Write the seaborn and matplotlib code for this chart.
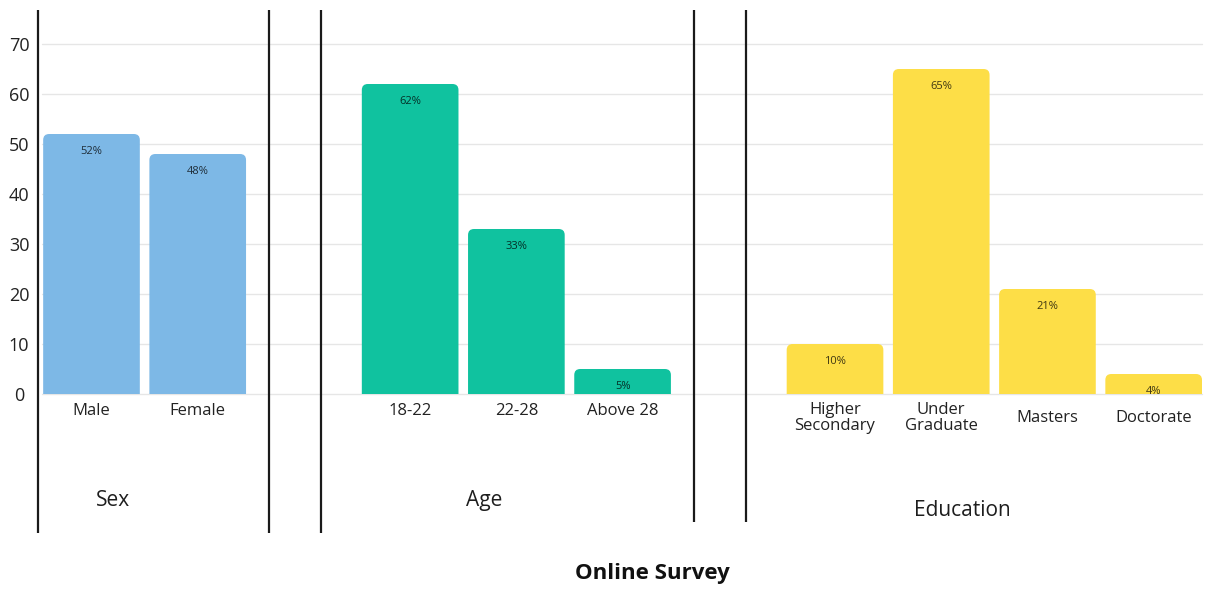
import pandas as pd
import matplotlib
matplotlib.use("Agg")
import matplotlib.pyplot as plt
import matplotlib.transforms as mtransforms
from matplotlib.patches import FancyBboxPatch
import seaborn as sns

# ---- survey data -------------------------------------------------------
sex_labels = ["Male", "Female"]
sex_values = [52, 48]
age_labels = ["18-22", "22-28", "Above 28"]
age_values = [62, 33, 5]
edu_labels = ["Higher\nSecondary", "Under\nGraduate", "Masters", "Doctorate"]
edu_values = [10, 65, 21, 4]
group_names = ["Sex", "Age", "Education"]
y_ticks = [0, 10, 20, 30, 40, 50, 60, 70]
title = "Online Survey"

palette = {"Sex": "#7db8e6", "Age": "#10c29f", "Education": "#fdde47"}

sns.set_style("white")
plt.rcParams["font.family"] = ["Open Sans", "DejaVu Sans"]
plt.rcParams["text.color"] = "#1e1e1e"

# ---- lay the bars out on slots, one empty slot between groups ----------
groups = list(zip(group_names, [sex_labels, age_labels, edu_labels],
                  [sex_values, age_values, edu_values]))
rows, starts, ends = [], [], []
slot = 0
for name, labels, values in groups:
    starts.append(slot)
    for lab, val in zip(labels, values):
        rows.append({"group": name, "label": lab, "value": val, "pos": slot})
        slot += 1
    ends.append(slot - 1)
    slot += 1
df = pd.DataFrame(rows)

W, H = 1219, 589
fig = plt.figure(figsize=(W / 100, H / 100), dpi=100)
ax = fig.add_axes([42 / W, 1 - 394 / H, 1160 / W, 350 / H])

sns.barplot(data=df, x="pos", y="value", hue="group", palette=palette,
            native_scale=True, width=0.91, dodge=False, legend=False,
            saturation=1, errorbar=None, ax=ax)

ax.set_xlim(-0.466, 10.455)
ax.set_ylim(0, 70)

# ---- swap plain rectangles for bars with rounded top corners -----------
bb = ax.get_window_extent()
xpp = (ax.get_xlim()[1] - ax.get_xlim()[0]) / bb.width
ypp = (ax.get_ylim()[1] - ax.get_ylim()[0]) / bb.height
r_px = 6
for p in list(ax.patches):
    x, w, h = p.get_x(), p.get_width(), p.get_height()
    fc = p.get_facecolor()
    p.remove()
    ext = 2 * r_px * ypp  # push the lower corners below the baseline
    ax.add_patch(FancyBboxPatch(
        (x, -ext), w, h + ext,
        boxstyle=f"round,pad=0,rounding_size={r_px * xpp}",
        mutation_aspect=ypp / xpp, facecolor=fc, edgecolor="none", zorder=2))

# ---- grid, axes and ticks ---------------------------------------------
ax.set_yticks(y_ticks)
ax.set_xticks([])
ax.set_xlabel("")
ax.set_ylabel("")
ax.grid(axis="y", color="#e6e6e6", linewidth=1)
ax.set_axisbelow(True)
for gl in ax.get_ygridlines():
    gl.set_clip_on(False)
for s in ax.spines.values():
    s.set_visible(False)
ax.tick_params(axis="y", length=0, pad=16.5, labelsize=13, labelcolor="#222222")
plt.setp(ax.get_yticklabels(), ha="center")

blend = mtransforms.blended_transform_factory(ax.transData, ax.transAxes)

# value labels inside the bars
for _, row in df.iterrows():
    ax.annotate(f"{row['value']}%", (row["pos"], row["value"]),
                xytext=(0, -12.5), textcoords="offset points",
                ha="center", va="center", fontsize=8, color="black",
                alpha=0.75, zorder=3)

# category labels and group titles
for gi, (name, labels, values) in enumerate(groups):
    multiline = any("\n" in lab for lab in labels)
    y_lab = -0.069 if multiline else -0.049
    y_grp = -0.334 if multiline else -0.303
    for k, lab in enumerate(labels):
        ax.text(starts[gi] + k, y_lab, lab, transform=blend, ha="center",
                va="center", fontsize=12, linespacing=0.95, color="#222222")
    ax.text((starts[gi] + ends[gi]) / 2 - 0.3, y_grp, name, transform=blend,
            ha="center", va="center", fontsize=15, color="#1e1e1e")

# vertical separators between the groups
seps = [(starts[0] - 0.5, -0.397)]
for gi in range(len(groups) - 1):
    bottom = -0.397 if gi == 0 else -0.366
    seps.append((ends[gi] + 0.67, bottom))
    seps.append((starts[gi + 1] - 0.84, bottom))
for xs, bottom in seps:
    ax.plot([xs, xs], [1.097, bottom], transform=blend, clip_on=False,
            color="#1a1a1a", linewidth=1.6, solid_capstyle="butt")

fig.text(652 / W, 1 - 573 / H, title, ha="center", va="center",
         fontsize=16, fontweight="bold", color="#111111")

fig.savefig("out.png", dpi=100, facecolor="white")
